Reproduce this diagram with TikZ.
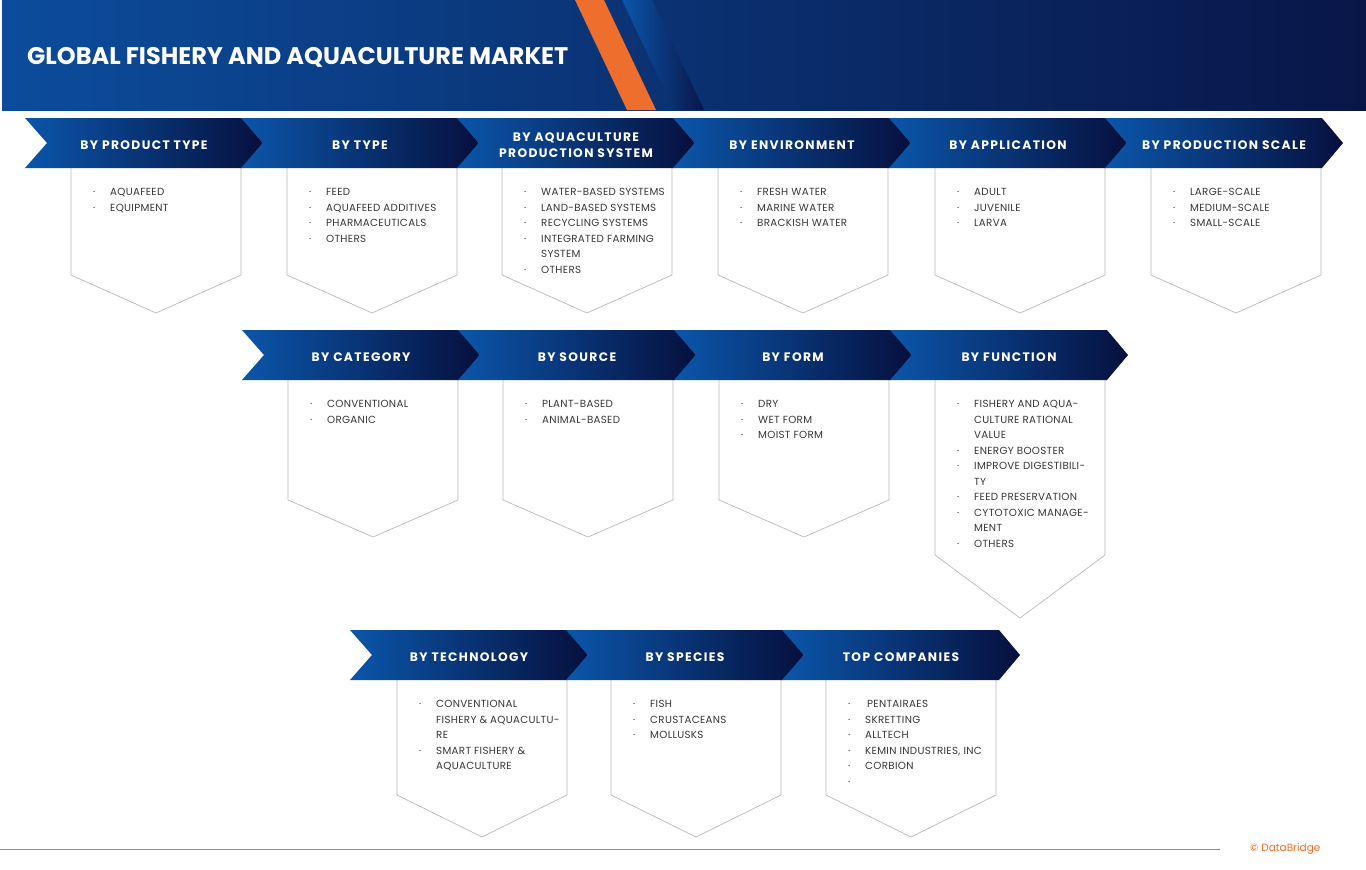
\documentclass[tikz,border=0pt]{standalone}
\usepackage{fontspec}
\setmainfont{Poppins}
\newfontfamily\capsfont[LetterSpace=11]{Poppins}
\newfontfamily\listfont[LetterSpace=3]{Poppins}

\definecolor{chevlight}{RGB}{11,86,170}
\definecolor{chevdark}{RGB}{6,16,62}
\definecolor{headlight}{RGB}{12,76,155}
\definecolor{headdark}{RGB}{9,22,72}
\definecolor{stripe}{RGB}{238,110,45}
\definecolor{boxline}{RGB}{185,185,185}
\definecolor{itemgray}{RGB}{55,55,55}

\tikzset{
  chevtext/.style={text=white, font=\capsfont\bfseries\fontsize{12.3}{16}\selectfont, align=center},
  itemtext/.style={text=itemgray, font=\listfont\fontsize{10.3}{15.5}\selectfont, align=left, inner sep=0pt, anchor=north west},
  outline/.style={draw=boxline, line width=0.7pt},
}

% bullet and continuation line
\newcommand{\itm}{\makebox[17pt][l]{·}}
\newcommand{\cnt}{\hspace*{17pt}}

% chevron: x, y, name, label
\newcommand{\segchev}[4]{%
  \shade[left color=chevlight, right color=chevdark] (#1,#2) -- ++(217,0) -- ++(21,25) -- ++(-21,25) -- ++(-217,0) -- ++(22,-25) -- cycle;
  \node[chevtext] (#3) at ({#1+119},{#2+27}) {#4};
}

% box: x, top, side bottom, tip, name, items
\newcommand{\segbox}[6]{%
  \draw[outline] (#1,#2) -- (#1,#3) -- ({#1+85},#4) -- ({#1+170},#3) -- ({#1+170},#2);
  \node[itemtext] (#5) at ({#1+22},{#2+20.5}) {#6};
}

\begin{document}
\begin{tikzpicture}[x=1pt, y=-1pt]
  \useasboundingbox (0,0) rectangle (1366,870);

  % Header
  \shade[left color=headlight, right color=headdark] (2,0) rectangle (1366,110);
  \shade[left color=chevlight, right color=headdark] (622,0) -- (652,0) -- (704,110) -- (674,110) -- cycle;
  \fill[stripe] (575,0) -- (604,0) -- (656,110) -- (627,110) -- cycle;
  \node[text=white, font=\bfseries\fontsize{24}{27}\selectfont, anchor=west, inner sep=0pt] (title) at (27,57) {GLOBAL FISHERY AND AQUACULTURE MARKET};

  % Row 1
  \segbox{71}{168}{275}{313}{prodtypelist}{\itm AQUAFEED\\ \itm EQUIPMENT}
  \segbox{287}{168}{275}{313}{typelist}{\itm FEED\\ \itm AQUAFEED ADDITIVES\\ \itm PHARMACEUTICALS\\ \itm OTHERS}
  \segbox{502}{168}{275}{313}{systemlist}{\itm WATER-BASED SYSTEMS\\ \itm LAND-BASED SYSTEMS\\ \itm RECYCLING SYSTEMS\\ \itm INTEGRATED FARMING\\ \cnt SYSTEM\\ \itm OTHERS}
  \segbox{718}{168}{275}{313}{envlist}{\itm FRESH WATER\\ \itm MARINE WATER\\ \itm BRACKISH WATER}
  \segbox{935}{168}{275}{313}{applist}{\itm ADULT\\ \itm JUVENILE\\ \itm LARVA}
  \segbox{1151}{168}{275}{313}{scalelist}{\itm LARGE-SCALE\\ \itm MEDIUM-SCALE\\ \itm SMALL-SCALE}
  \segchev{25}{118}{prodtype}{BY PRODUCT TYPE}
  \segchev{241}{118}{type}{BY TYPE}
  \segchev{457}{118}{system}{BY AQUACULTURE\\PRODUCTION SYSTEM}
  \segchev{673}{118}{env}{BY ENVIRONMENT}
  \segchev{889}{118}{app}{BY APPLICATION}
  \segchev{1105}{118}{scale}{BY PRODUCTION SCALE}

  % Row 2
  \segbox{288}{380}{500}{537}{categorylist}{\itm CONVENTIONAL\\ \itm ORGANIC}
  \segbox{503}{380}{500}{537}{sourcelist}{\itm PLANT-BASED\\ \itm ANIMAL-BASED}
  \segbox{719}{380}{500}{537}{formlist}{\itm DRY\\ \itm WET FORM\\ \itm MOIST FORM}
  \segbox{935}{380}{555}{618}{functionlist}{\itm FISHERY AND AQUA-\\ \cnt CULTURE RATIONAL\\ \cnt VALUE\\ \itm ENERGY BOOSTER\\ \itm IMPROVE DIGESTIBILI-\\ \cnt TY\\ \itm FEED PRESERVATION\\ \itm CYTOTOXIC MANAGE-\\ \cnt MENT\\ \itm OTHERS}
  \segchev{242}{330}{category}{BY CATEGORY}
  \segchev{458}{330}{source}{BY SOURCE}
  \segchev{674}{330}{form}{BY FORM}
  \segchev{890}{330}{function}{BY FUNCTION}

  % Row 3
  \segbox{397}{680}{795}{837}{techlist}{\itm CONVENTIONAL\\ \cnt FISHERY \& AQUACULTU-\\ \cnt RE\\ \itm SMART FISHERY \&\\ \cnt AQUACULTURE}
  \segbox{611}{680}{795}{837}{specieslist}{\itm FISH\\ \itm CRUSTACEANS\\ \itm MOLLUSKS}
  \segbox{826}{680}{795}{837}{companylist}{\itm\hspace{2pt}PENTAIRAES\\ \itm SKRETTING\\ \itm ALLTECH\\ \itm KEMIN INDUSTRIES, INC\\ \itm CORBION\\ \itm}
  \segchev{350}{630}{tech}{BY TECHNOLOGY}
  \segchev{566}{630}{species}{BY SPECIES}
  \segchev{782}{630}{companies}{TOP COMPANIES}

  % Footer
  \draw[stripe, line width=1pt] (0,849) -- (1220,849);
  \node[text=stripe, font=\fontsize{10.5}{12}\selectfont, anchor=west, inner sep=0pt] (credit) at (1250,849) {© DataBridge};
\end{tikzpicture}
\end{document}
